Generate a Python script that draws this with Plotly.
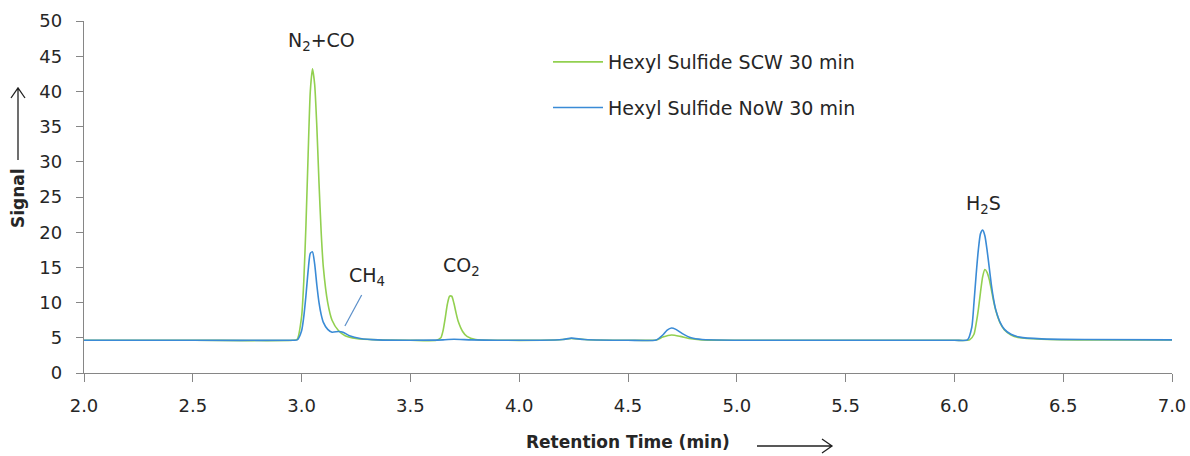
import plotly.graph_objects as go

# ---- data (retention time in min, signal) ----
scw_time = [2.00, 2.50, 2.96, 2.98, 3.00, 3.01, 3.02, 3.03, 3.04, 3.05, 3.06, 3.07, 3.08, 3.09,
            3.10, 3.12, 3.14, 3.17, 3.20, 3.25, 3.35, 3.50, 3.62, 3.64, 3.65, 3.66, 3.67, 3.68,
            3.69, 3.70, 3.71, 3.72, 3.74, 3.76, 3.80, 3.90, 4.10, 4.20, 4.24, 4.30, 4.50, 4.63,
            4.66, 4.70, 4.74, 4.78, 4.84, 5.00, 5.50, 6.00, 6.07, 6.09, 6.10, 6.11, 6.12, 6.13,
            6.14, 6.15, 6.16, 6.17, 6.18, 6.19, 6.21, 6.23, 6.26, 6.30, 6.40, 6.60, 7.00]
scw_signal = [4.65, 4.65, 4.65, 4.8, 8.0, 13.0, 21.0, 31.0, 40.0, 43.2, 41.0, 35.0, 27.0, 20.0,
              15.0, 10.0, 7.5, 6.0, 5.3, 4.9, 4.7, 4.65, 4.65, 5.0, 6.0, 7.8, 9.8, 10.9,
              10.9, 9.9, 8.5, 7.3, 5.9, 5.2, 4.75, 4.65, 4.65, 4.75, 4.9, 4.75, 4.65, 4.7,
              5.1, 5.4, 5.2, 4.9, 4.7, 4.65, 4.65, 4.65, 4.7, 5.5, 7.0, 9.0, 11.5, 13.7,
              14.7, 14.3, 13.3, 11.8, 10.2, 8.9, 7.1, 6.1, 5.4, 5.0, 4.8, 4.7, 4.7]

now_time = [2.00, 2.50, 2.96, 2.98, 3.00, 3.01, 3.02, 3.03, 3.04, 3.05, 3.06, 3.07, 3.08, 3.09,
            3.10, 3.12, 3.14, 3.17, 3.19, 3.22, 3.27, 3.35, 3.50, 3.65, 3.70, 3.78, 3.90, 4.10,
            4.20, 4.24, 4.30, 4.50, 4.63, 4.66, 4.68, 4.70, 4.72, 4.75, 4.79, 4.84, 5.00, 5.50,
            6.00, 6.06, 6.08, 6.09, 6.10, 6.11, 6.12, 6.13, 6.14, 6.15, 6.16, 6.17, 6.18, 6.19,
            6.21, 6.23, 6.26, 6.30, 6.40, 6.60, 7.00]
now_signal = [4.65, 4.65, 4.65, 4.7, 6.0, 8.0, 11.0, 14.5, 17.0, 17.2, 15.5, 12.5, 10.0, 8.3,
              7.2, 6.2, 5.8, 5.9, 5.8, 5.3, 4.9, 4.7, 4.65, 4.7, 4.8, 4.7, 4.65, 4.65,
              4.75, 4.95, 4.75, 4.65, 4.7, 5.4, 6.1, 6.4, 6.2, 5.6, 5.0, 4.75, 4.65, 4.65,
              4.65, 4.7, 6.5, 10.0, 14.0, 17.5, 19.8, 20.3, 19.5, 17.5, 15.0, 12.5, 10.5, 9.0,
              7.2, 6.2, 5.5, 5.1, 4.85, 4.75, 4.7]

series_names = ["Hexyl Sulfide SCW 30 min", "Hexyl Sulfide NoW 30 min"]
series_colors = ["#92D050", "#3A8BD6"]

x_ticks = [2.0, 2.5, 3.0, 3.5, 4.0, 4.5, 5.0, 5.5, 6.0, 6.5, 7.0]
y_ticks = [0, 5, 10, 15, 20, 25, 30, 35, 40, 45, 50]

peak_labels = ["N<sub>2</sub>+CO", "CH<sub>4</sub>", "CO<sub>2</sub>", "H<sub>2</sub>S"]
peak_label_x = [3.09, 3.30, 3.737, 6.132]
peak_label_y = [47.1, 13.7, 15.1, 23.9]

FONT = "DejaVu Sans"
TXT = "#262626"

fig = go.Figure()
fig.add_trace(go.Scatter(x=scw_time, y=scw_signal, mode="lines", name=series_names[0],
                         line=dict(color=series_colors[0], width=1.6, shape="spline", smoothing=0.6),
                         legendgroup="a"))
fig.add_trace(go.Scatter(x=now_time, y=now_signal, mode="lines", name=series_names[1],
                         line=dict(color=series_colors[1], width=1.6, shape="spline", smoothing=0.6),
                         legendgroup="b"))

for t, x, y in zip(peak_labels, peak_label_x, peak_label_y):
    fig.add_annotation(x=x, y=y, text=t, showarrow=False, xref="x", yref="y",
                       xanchor="center", yanchor="middle",
                       font=dict(family=FONT, size=19, color=TXT))

# leader line for CH4
fig.add_shape(type="line", xref="x", yref="y", x0=3.276, y0=11.08, x1=3.199, y1=6.68,
              line=dict(color="#5B8FC9", width=1.2))

# pixel -> paper helpers for decorative arrows
L, R, T, B = 84, 1172, 21, 373
def px(x):
    return (x - L) / (R - L)
def py(y):
    return (B - y) / (B - T)

# x-axis arrow
fig.add_shape(type="path", xref="paper", yref="paper",
              path=f"M {px(757)} {py(446)} L {px(832)} {py(446)} M {px(822)} {py(439)} L {px(832)} {py(446)} L {px(822)} {py(453)}",
              line=dict(color="#222222", width=1.3))
# y-axis arrow
fig.add_shape(type="path", xref="paper", yref="paper",
              path=f"M {px(18)} {py(160)} L {px(18)} {py(88)} M {px(11)} {py(98)} L {px(18)} {py(88)} L {px(25)} {py(98)}",
              line=dict(color="#222222", width=1.3))

fig.add_annotation(x=px(628), y=py(442), xref="paper", yref="paper", text="<b>Retention Time (min)</b>",
                   xanchor="center", yanchor="middle",
                   showarrow=False, font=dict(family=FONT, size=17, color=TXT))
fig.add_annotation(x=px(18), y=py(198), xref="paper", yref="paper", text="<b>Signal</b>",
                   xanchor="center", yanchor="middle",
                   showarrow=False, textangle=-90, font=dict(family=FONT, size=17, color=TXT))

fig.update_layout(
    width=1190, height=456,
    margin=dict(l=L, r=1190 - R, t=T, b=456 - B, autoexpand=False),
    paper_bgcolor="white", plot_bgcolor="white",
    font=dict(family=FONT, size=16, color=TXT),
    showlegend=True,
    legend=dict(x=px(548), y=py(43), xanchor="left", yanchor="top",
                bgcolor="rgba(0,0,0,0)", font=dict(family=FONT, size=19, color=TXT),
                tracegroupgap=18, itemwidth=50),
    xaxis=dict(range=[2.0, 7.0], tickvals=x_ticks, ticktext=[f"{v:.1f}" for v in x_ticks],
               automargin=False,
               showgrid=False, zeroline=False, showline=True, linecolor="#868686", linewidth=1.3,
               ticks="outside", ticklen=8, tickcolor="#868686", tickwidth=1.3,
               ticklabelstandoff=8,
               tickfont=dict(family=FONT, size=18, color=TXT)),
    yaxis=dict(range=[0, 50], tickvals=y_ticks, showgrid=False, zeroline=False,
               automargin=False,
               showline=True, linecolor="#868686", linewidth=1.3,
               ticks="outside", ticklen=7, tickcolor="#868686", tickwidth=1.3,
               ticklabelstandoff=10,
               tickfont=dict(family=FONT, size=18, color=TXT)),
)

fig.write_html("out.html")
